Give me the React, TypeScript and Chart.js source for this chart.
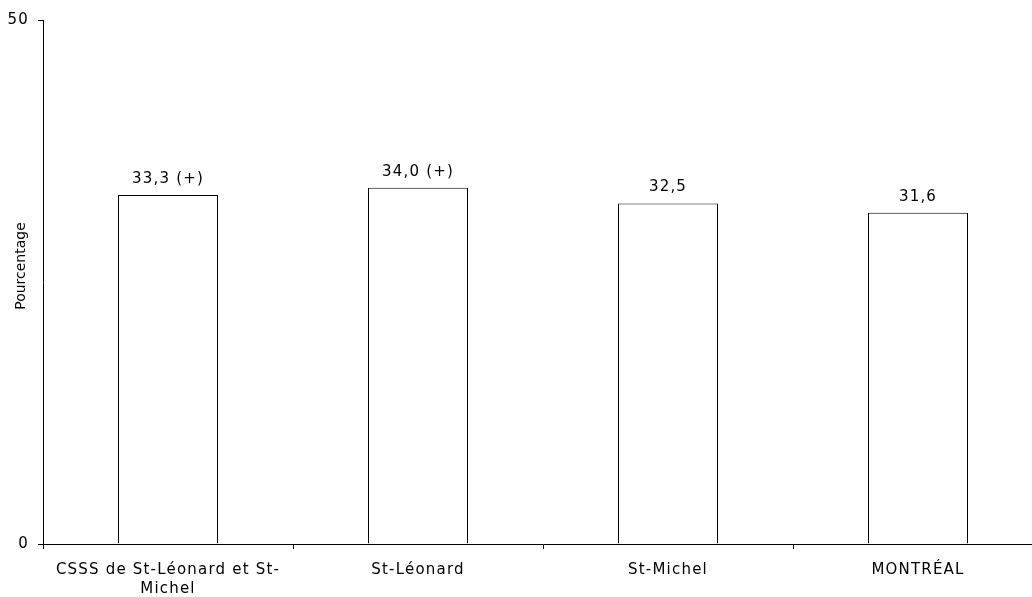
import React, { useEffect, useRef } from "react";
import { Chart, registerables } from "chart.js";

Chart.register(...registerables);

const categories: (string | string[])[] = [
  ["CSSS de St-Léonard et St-", "Michel"],
  "St-Léonard",
  "St-Michel",
  "MONTRÉAL",
];
const values: number[] = [33.3, 34.0, 32.5, 31.6];
const valueLabels: string[] = ["33,3 (+)", "34,0 (+)", "32,5", "31,6"];
const yTicks: number[] = [0, 50];
const yTitle = "Pourcentage";

const FONT = "DejaVu Sans";

const textPlugin = {
  id: "textPlugin",
  beforeUpdate(chart: any) {
    chart.ctx.letterSpacing = "1.2px";
  },
  beforeDraw(chart: any) {
    chart.ctx.letterSpacing = "1.2px";
  },
  afterDatasetsDraw(chart: any) {
    const ctx = chart.ctx;
    const meta = chart.getDatasetMeta(0);
    ctx.save();
    ctx.letterSpacing = "1.2px";
    ctx.font = `15px "${FONT}"`;
    ctx.fillStyle = "#000";
    ctx.textAlign = "center";
    ctx.textBaseline = "alphabetic";
    meta.data.forEach((bar: any, i: number) => {
      ctx.fillText(valueLabels[i], bar.x, bar.y - 12);
    });
    ctx.restore();

    const area = chart.chartArea;
    ctx.save();
    ctx.letterSpacing = "0px";
    ctx.translate(21, (area.top + area.bottom) / 2 - 16);
    ctx.rotate(-Math.PI / 2);
    ctx.font = `14px "${FONT}"`;
    ctx.fillStyle = "#000";
    ctx.textAlign = "center";
    ctx.textBaseline = "middle";
    ctx.fillText(yTitle, 0, 0);
    ctx.restore();
  },
};

export default function App() {
  const ref = useRef<HTMLCanvasElement | null>(null);

  useEffect(() => {
    if (!ref.current) return;
    const chart = new Chart(ref.current, {
      type: "bar",
      data: {
        labels: categories,
        datasets: [
          {
            data: values,
            backgroundColor: "#ffffff",
            borderColor: "#000000",
            borderWidth: 1,
            borderSkipped: "bottom",
            barPercentage: 0.4,
            categoryPercentage: 1.0,
          },
        ],
      },
      options: {
        responsive: false,
        animation: false,
        devicePixelRatio: 1,
        layout: { padding: { left: 0, top: 20, right: 4, bottom: 0 } },
        plugins: {
          legend: { display: false },
          tooltip: { enabled: false },
        },
        scales: {
          x: {
            offset: true,
            grid: {
              offset: true,
              drawOnChartArea: false,
              drawTicks: true,
              tickLength: 5,
              color: "#000",
            },
            border: { display: true, color: "#000", width: 1 },
            ticks: {
              color: "#000",
              padding: 12,
              maxRotation: 0,
              minRotation: 0,
              autoSkip: false,
              font: { family: FONT, size: 15, lineHeight: 1.25 },
            },
            afterFit(scale: any) {
              scale.height = 53;
            },
          },
          y: {
            min: yTicks[0],
            max: yTicks[yTicks.length - 1],
            grid: {
              drawOnChartArea: false,
              drawTicks: true,
              tickLength: 5,
              color: "#000",
            },
            border: { display: true, color: "#000", width: 1 },
            ticks: {
              stepSize: yTicks[1] - yTicks[0],
              color: "#000",
              padding: 9,
              font: { family: FONT, size: 15 },
            },
            afterFit(scale: any) {
              scale.width = 43;
            },
          },
        },
      },
      plugins: [textPlugin],
    });
    return () => chart.destroy();
  }, []);

  return (
    <div
      style={{
        position: "fixed",
        left: 0,
        top: 0,
        width: 1032,
        height: 597,
        overflow: "hidden",
        background: "#fff",
      }}
    >
      <canvas
        ref={ref}
        width={1047}
        height={597}
        style={{ display: "block", width: 1047, height: 597 }}
      />
    </div>
  );
}
